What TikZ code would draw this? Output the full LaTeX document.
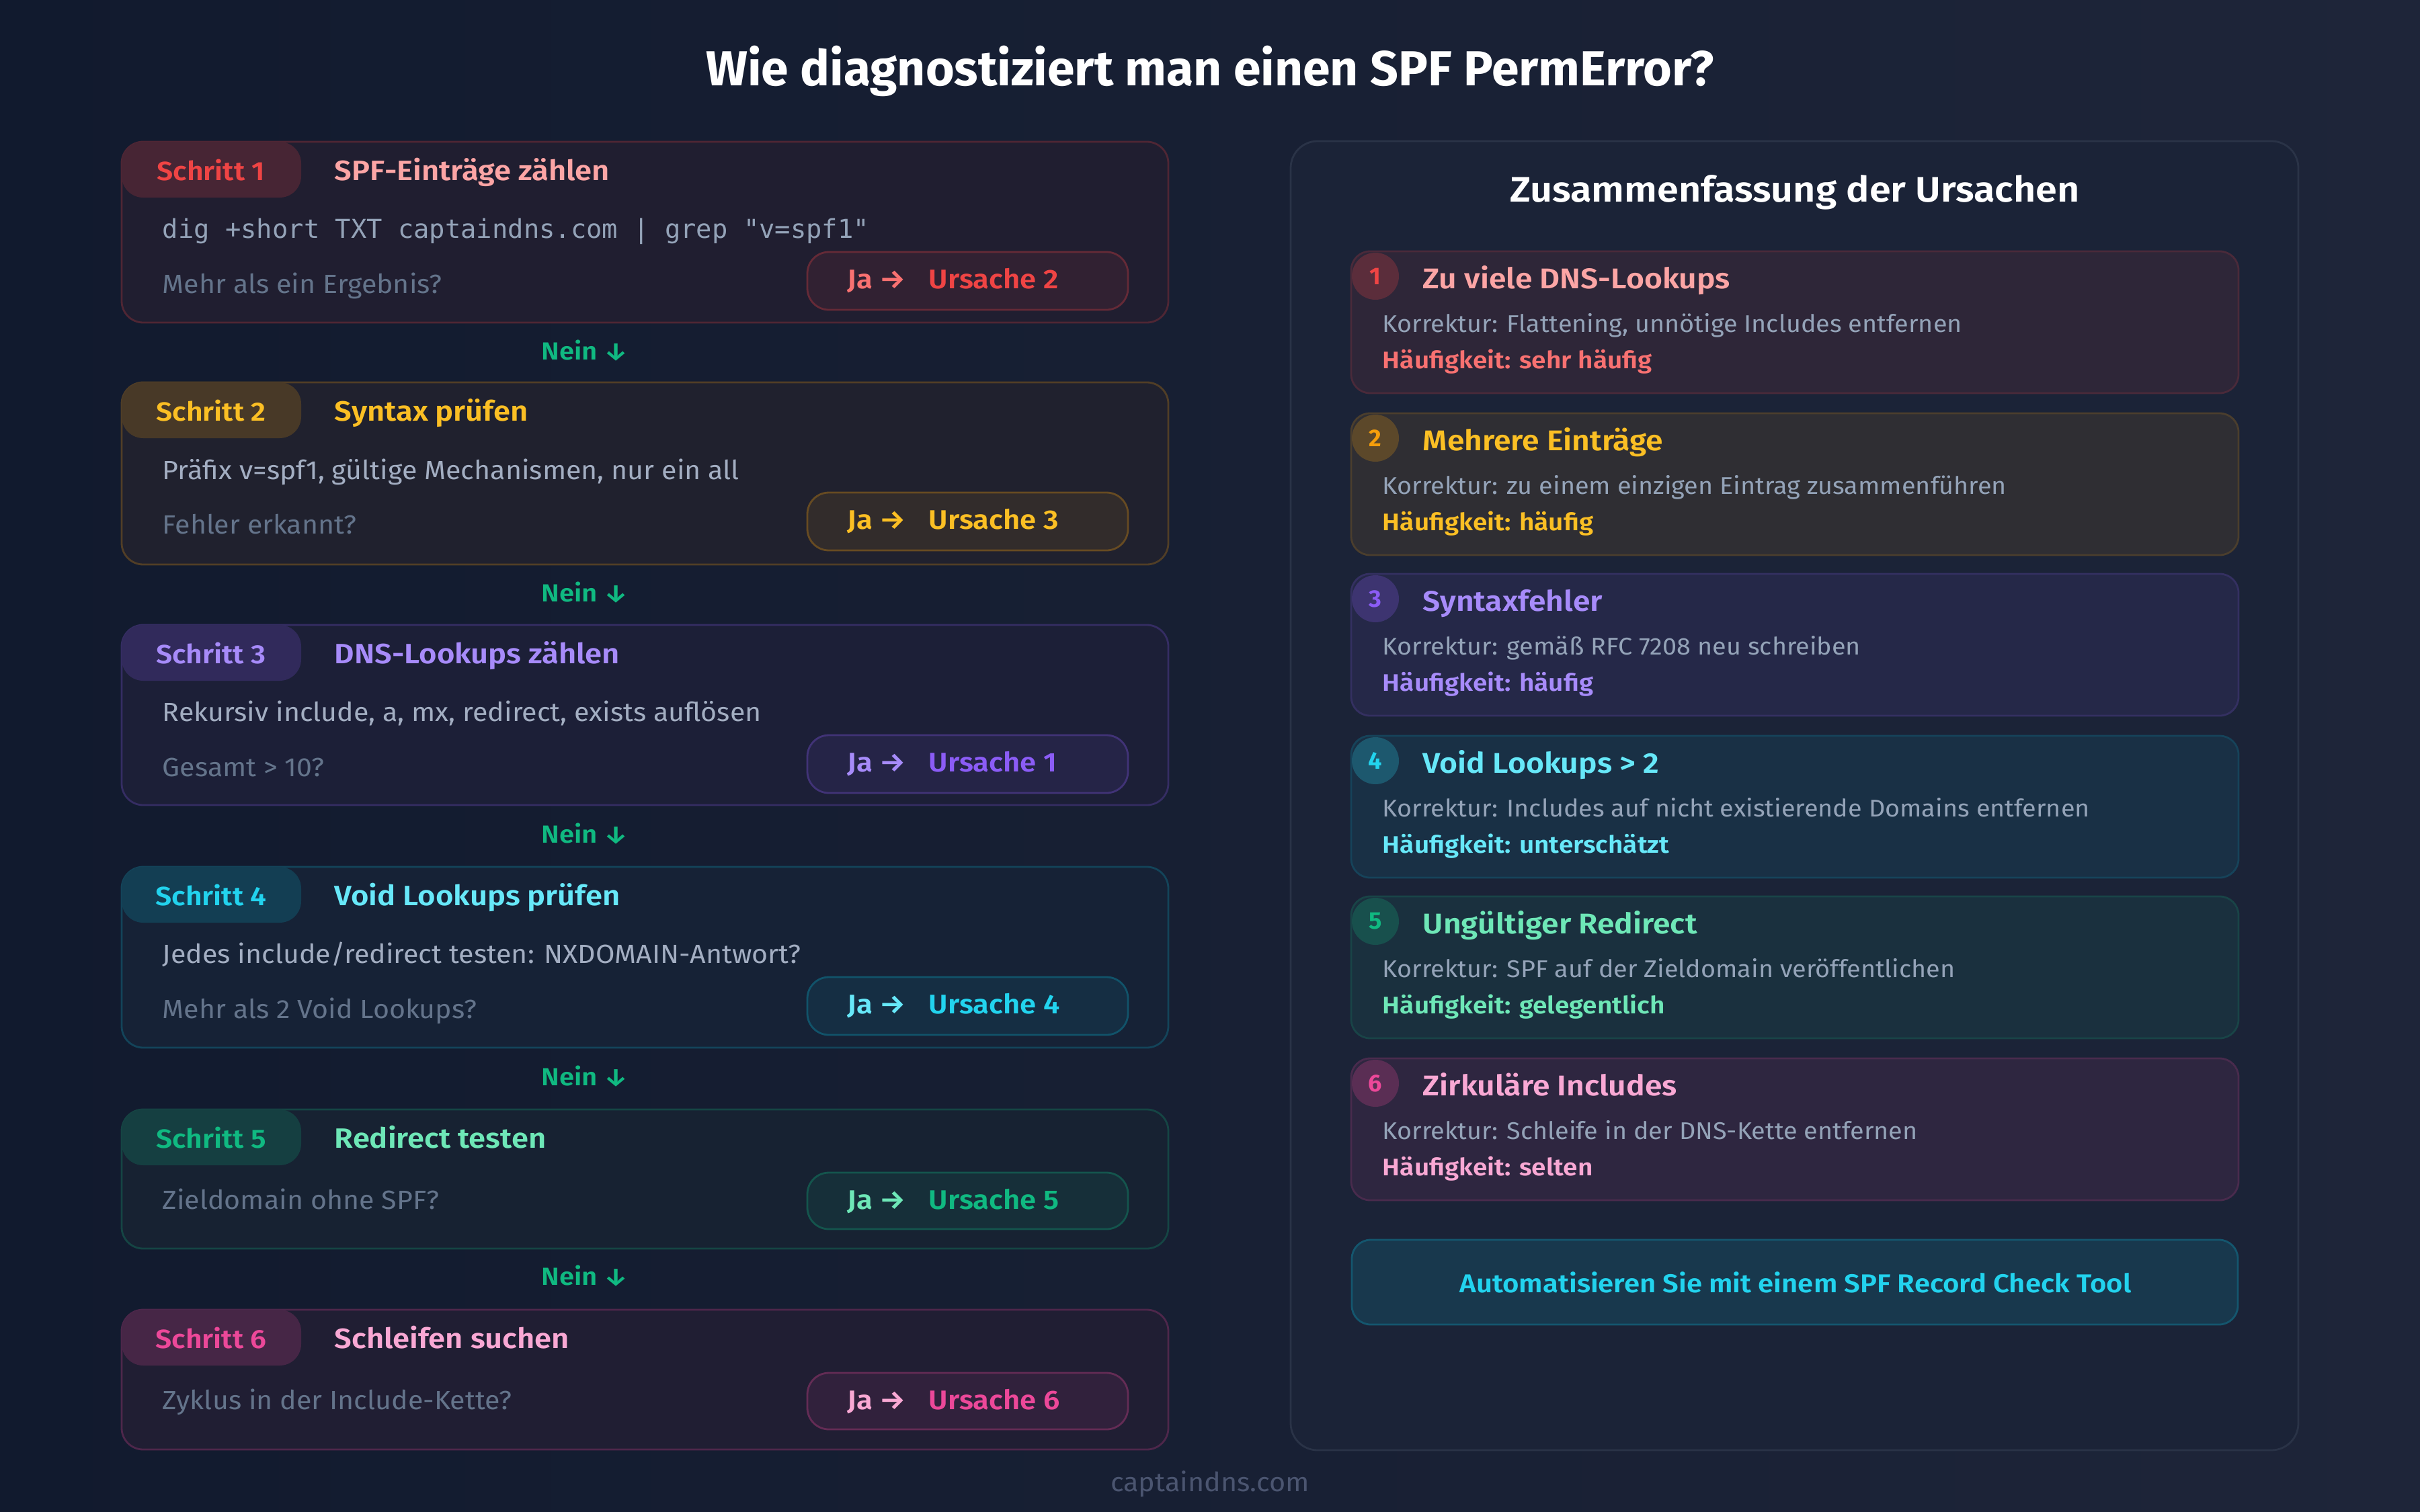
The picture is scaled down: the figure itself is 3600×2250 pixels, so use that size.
\documentclass[tikz,border=0pt]{standalone}
\usepackage{fontspec}
\setmainfont{Fira Sans}[FakeStretch=1.05]
\newfontfamily\semifont{Fira Sans SemiBold}[FakeStretch=1.09]
\newfontface\heavyfont{Fira Sans Bold}
\newfontfamily\codefont{DejaVu Sans Mono}
\usepackage{tikz}

\definecolor{bgA}{HTML}{111A2E}
\definecolor{bgB}{HTML}{1E2539}
\definecolor{boxfill}{HTML}{171C2F}
\definecolor{panelfill}{HTML}{1B2337}
\definecolor{panelline}{HTML}{2A3347}
\definecolor{desctxt}{HTML}{A3AEC2}
\definecolor{codetxt}{HTML}{94A3B8}
\definecolor{asktxt}{HTML}{64748B}
\definecolor{foottxt}{HTML}{4B5570}
\definecolor{red5}{HTML}{EF4444}
\definecolor{red4}{HTML}{F87171}
\definecolor{red3}{HTML}{FCA5A5}
\definecolor{amb5}{HTML}{F59E0B}
\definecolor{amb4}{HTML}{FBBF24}
\definecolor{vio5}{HTML}{8B5CF6}
\definecolor{vio4}{HTML}{A78BFA}
\definecolor{cya5}{HTML}{06B6D4}
\definecolor{cya4}{HTML}{22D3EE}
\definecolor{cya3}{HTML}{67E8F9}
\definecolor{eme5}{HTML}{10B981}
\definecolor{eme3}{HTML}{6EE7B7}
\definecolor{pnk5}{HTML}{EC4899}
\definecolor{pnk3}{HTML}{F9A8D4}

\tikzset{
  stepbox/.style={draw=#1!26!boxfill, fill=#1!4!boxfill, line width=0.7pt, rounded corners=8pt},
  badge/.style={fill=#1!22!boxfill, rounded corners=8pt},
  yesbtn/.style={draw=#1!36!boxfill, fill=#1!12!boxfill, line width=0.7pt, rounded corners=8pt},
  panel/.style={draw=panelline, fill=panelfill, line width=0.7pt, rounded corners=10pt},
  card/.style={draw=#1!22!panelfill, fill=#1!9!panelfill, line width=0.7pt, rounded corners=7pt},
  numdot/.style={circle, fill=#1!30!panelfill, text=#1, minimum size=17.5pt, inner sep=0pt,
    font=\heavyfont\fontsize{9}{9}\selectfont},
  txt/.style={inner sep=0pt, anchor=base west},
  badgetxt/.style={inner sep=0pt, anchor=base, font=\semifont\fontsize{9.8}{12}\selectfont},
  steptitle/.style={txt, font=\semifont\fontsize{10.4}{12}\selectfont},
  desc/.style={txt, text=desctxt, font=\fontsize{9.8}{12}\selectfont},
  code/.style={txt, text=codetxt, font=\codefont\fontsize{9.7}{12}\selectfont},
  ask/.style={txt, text=asktxt, font=\fontsize{9.8}{12}\selectfont},
  jatxt/.style={txt, font=\semifont\fontsize{10}{12}\selectfont},
  nein/.style={inner sep=0pt, anchor=base, text=eme5, font=\semifont\fontsize{9.2}{12}\selectfont},
  cardtitle/.style={txt, font=\semifont\fontsize{10.6}{12}\selectfont},
  fix/.style={txt, text=codetxt, font=\fontsize{9}{10}\selectfont},
  freq/.style={txt, font=\semifont\fontsize{8.9}{10}\selectfont}
}

\begin{document}
\begin{tikzpicture}[x=0.25pt,y=-0.25pt]

\shade[left color=bgA, right color=bgB] (0,0) rectangle (3600,2250);
\useasboundingbox (0,0) rectangle (3600,2250);

\node[inner sep=0pt, anchor=base, text=white, font=\heavyfont\fontsize{18.3}{20}\selectfont] (title) at (1800,127) {Wie diagnostiziert man einen SPF PermError?};

% Schritt 1
\draw[stepbox=red5] (181,211) rectangle (1738,480);
\fill[badge=red5] (181,211) rectangle (448,294);
\node[badgetxt, text=red5] (s1) at (314,268) {Schritt 1};
\node[steptitle, text=red3] (t1) at (497,268) {SPF-Einträge zählen};
\node[code] (d1) at (241,354) {dig +short TXT captaindns.com | grep "v=spf1"};
\node[ask] (q1) at (241,436) {Mehr als ein Ergebnis?};
\draw[yesbtn=red5] (1201,375) rectangle (1678,461);
\node[jatxt, text=red4] (j1) at (1260,429) {Ja →};
\node[jatxt, text=red5] (u1) at (1381,429) {Ursache 2};
\node[nein] (n1) at (870,535) {Nein ↓};

% Schritt 2
\draw[stepbox=amb5] (181,569) rectangle (1738,840);
\fill[badge=amb5] (181,569) rectangle (448,652);
\node[badgetxt, text=amb4] (s2) at (314,626) {Schritt 2};
\node[steptitle, text=amb4] (t2) at (497,626) {Syntax prüfen};
\node[desc] (d2) at (241,713) {Präfix v=spf1, gültige Mechanismen, nur ein all};
\node[ask] (q2) at (241,794) {Fehler erkannt?};
\draw[yesbtn=amb5] (1201,733) rectangle (1678,819);
\node[jatxt, text=amb4] (j2) at (1260,787) {Ja →};
\node[jatxt, text=amb4] (u2) at (1381,787) {Ursache 3};
\node[nein] (n2) at (870,895) {Nein ↓};

% Schritt 3
\draw[stepbox=vio5] (181,930) rectangle (1738,1198);
\fill[badge=vio5] (181,930) rectangle (448,1013);
\node[badgetxt, text=vio4] (s3) at (314,987) {Schritt 3};
\node[steptitle, text=vio4] (t3) at (497,987) {DNS-Lookups zählen};
\node[desc] (d3) at (241,1073) {Rekursiv include, a, mx, redirect, exists auflösen};
\node[ask] (q3) at (241,1155) {Gesamt > 10?};
\draw[yesbtn=vio5] (1201,1094) rectangle (1678,1180);
\node[jatxt, text=vio4] (j3) at (1260,1148) {Ja →};
\node[jatxt, text=vio5] (u3) at (1381,1148) {Ursache 1};
\node[nein] (n3) at (870,1254) {Nein ↓};

% Schritt 4
\draw[stepbox=cya5] (181,1290) rectangle (1738,1559);
\fill[badge=cya5] (181,1290) rectangle (448,1373);
\node[badgetxt, text=cya4] (s4) at (314,1347) {Schritt 4};
\node[steptitle, text=cya3] (t4) at (497,1347) {Void Lookups prüfen};
\node[desc] (d4) at (241,1433) {Jedes include/redirect testen: NXDOMAIN-Antwort?};
\node[ask] (q4) at (241,1515) {Mehr als 2 Void Lookups?};
\draw[yesbtn=cya5] (1201,1454) rectangle (1678,1540);
\node[jatxt, text=cya3] (j4) at (1260,1508) {Ja →};
\node[jatxt, text=cya4] (u4) at (1381,1508) {Ursache 4};
\node[nein] (n4) at (870,1615) {Nein ↓};

% Schritt 5
\draw[stepbox=eme5] (181,1651) rectangle (1738,1858);
\fill[badge=eme5] (181,1651) rectangle (448,1734);
\node[badgetxt, text=eme5] (s5) at (314,1708) {Schritt 5};
\node[steptitle, text=eme3] (t5) at (497,1708) {Redirect testen};
\node[ask] (q5) at (241,1799) {Zieldomain ohne SPF?};
\draw[yesbtn=eme5] (1201,1745) rectangle (1678,1829);
\node[jatxt, text=eme3] (j5) at (1260,1799) {Ja →};
\node[jatxt, text=eme5] (u5) at (1381,1799) {Ursache 5};
\node[nein] (n5) at (870,1912) {Nein ↓};

% Schritt 6
\draw[stepbox=pnk5] (181,1949) rectangle (1738,2157);
\fill[badge=pnk5] (181,1949) rectangle (448,2032);
\node[badgetxt, text=pnk5] (s6) at (314,2006) {Schritt 6};
\node[steptitle, text=pnk3] (t6) at (497,2006) {Schleifen suchen};
\node[ask] (q6) at (241,2097) {Zyklus in der Include-Kette?};
\draw[yesbtn=pnk5] (1201,2043) rectangle (1678,2127);
\node[jatxt, text=pnk3] (j6) at (1260,2097) {Ja →};
\node[jatxt, text=pnk5] (u6) at (1381,2097) {Ursache 6};

% Zusammenfassung
\draw[panel] (1920,210) rectangle (3419,2158);
\node[inner sep=0pt, anchor=base, text=white, font=\semifont\fontsize{13.2}{15}\selectfont] (sumhead) at (2670,300) {Zusammenfassung der Ursachen};

\draw[card=red5] (2010,374) rectangle (3330,585);
\node[numdot=red5] (c1) at (2046,411) {1};
\node[cardtitle, text=red3] (ct1) at (2116,429) {Zu viele DNS-Lookups};
\node[fix] (k1) at (2056,494) {Korrektur: Flattening, unnötige Includes entfernen};
\node[freq, text=red4] (h1) at (2056,548) {Häufigkeit: sehr häufig};

\draw[card=amb5] (2010,615) rectangle (3330,826);
\node[numdot=amb5] (c2) at (2046,652) {2};
\node[cardtitle, text=amb4] (ct2) at (2116,670) {Mehrere Einträge};
\node[fix] (k2) at (2056,735) {Korrektur: zu einem einzigen Eintrag zusammenführen};
\node[freq, text=amb4] (h2) at (2056,789) {Häufigkeit: häufig};

\draw[card=vio5] (2010,854) rectangle (3330,1065);
\node[numdot=vio5] (c3) at (2046,891) {3};
\node[cardtitle, text=vio4] (ct3) at (2116,909) {Syntaxfehler};
\node[fix] (k3) at (2056,974) {Korrektur: gemäß RFC 7208 neu schreiben};
\node[freq, text=vio4] (h3) at (2056,1028) {Häufigkeit: häufig};

\draw[card=cya5] (2010,1095) rectangle (3330,1306);
\node[numdot=cya4] (c4) at (2046,1132) {4};
\node[cardtitle, text=cya3] (ct4) at (2116,1150) {Void Lookups > 2};
\node[fix] (k4) at (2056,1215) {Korrektur: Includes auf nicht existierende Domains entfernen};
\node[freq, text=cya3] (h4) at (2056,1269) {Häufigkeit: unterschätzt};

\draw[card=eme5] (2010,1334) rectangle (3330,1545);
\node[numdot=eme5] (c5) at (2046,1371) {5};
\node[cardtitle, text=eme3] (ct5) at (2116,1389) {Ungültiger Redirect};
\node[fix] (k5) at (2056,1454) {Korrektur: SPF auf der Zieldomain veröffentlichen};
\node[freq, text=eme3] (h5) at (2056,1508) {Häufigkeit: gelegentlich};

\draw[card=pnk5] (2010,1575) rectangle (3330,1786);
\node[numdot=pnk5] (c6) at (2046,1612) {6};
\node[cardtitle, text=pnk3] (ct6) at (2116,1630) {Zirkuläre Includes};
\node[fix] (k6) at (2056,1695) {Korrektur: Schleife in der DNS-Kette entfernen};
\node[freq, text=pnk3] (h6) at (2056,1749) {Häufigkeit: selten};

\draw[card=cya5, draw=cya5!35!panelfill, fill=cya5!14!panelfill] (2011,1845) rectangle (3329,1971);
\node[inner sep=0pt, anchor=base, text=cya4, font=\semifont\fontsize{9.6}{12}\selectfont] (cta) at (2671,1923) {Automatisieren Sie mit einem SPF Record Check Tool};

\node[inner sep=0pt, anchor=base, text=foottxt, font=\fontsize{9.85}{11}\selectfont] (foot) at (1800,2219) {captaindns.com};

\end{tikzpicture}
\end{document}
